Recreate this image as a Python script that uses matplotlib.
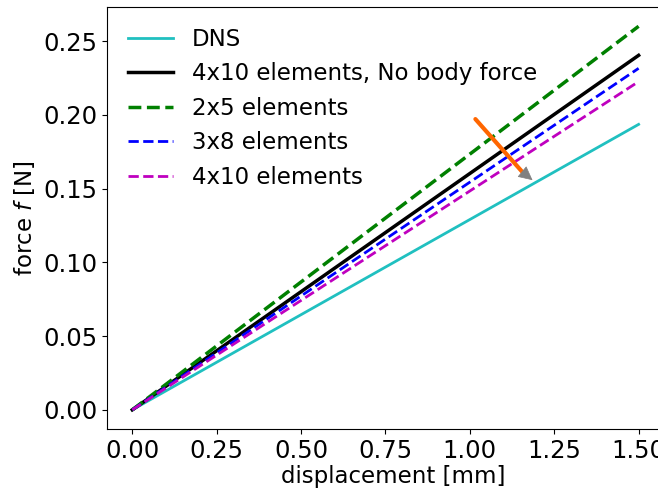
import matplotlib
matplotlib.use("Agg")
import matplotlib.pyplot as plt
import numpy as np

disp = [0.0, 1.5]
dns = [0.0, 0.1935]
nobody = [0.0, 0.2403]
e2x5 = [0.0, 0.2600]
e3x8 = [0.0, 0.2315]
e4x10 = [0.0, 0.2225]

fig = plt.figure(figsize=(6.58, 4.90), dpi=100)
ax = fig.add_axes([0.1626, 0.1245, 0.87, 0.861])
ax.set_xlim(-0.075, 1.621)
ax.set_ylim(-0.013, 0.273)

ax.plot(disp, dns, color='#20c0c0', lw=2, label='DNS')
ax.plot(disp, nobody, color='k', lw=2.5, label='4x10 elements, No body force')
ax.plot(disp, e2x5, color='g', lw=2.5, ls='--', label='2x5 elements')
ax.plot(disp, e3x8, color='b', lw=2, ls='--', label='3x8 elements')
ax.plot(disp, e4x10, color='m', lw=2, ls='--', label='4x10 elements')

ax.set_xticks([0, 0.25, 0.5, 0.75, 1.0, 1.25, 1.5])
ax.set_yticks([0, 0.05, 0.10, 0.15, 0.20, 0.25])
ax.tick_params(labelsize=17.5)
ax.set_xlabel('displacement [mm]', fontsize=16.5, labelpad=2)
ax.set_ylabel('force $f$ [N]', fontsize=16.5)
ax.legend(loc='upper left', fontsize=16.5, frameon=False)

# arrow
ax.annotate('', xy=(1.172, 0.1570), xytext=(1.011, 0.1985),
            arrowprops=dict(arrowstyle='-', color='#ff6600', lw=3))
ax.annotate('', xy=(1.192, 0.1545), xytext=(1.160, 0.1605),
            arrowprops=dict(arrowstyle='-|>,head_length=0.9,head_width=0.45', color='#808080', lw=0.5))

fig.savefig('out.png', dpi=100)
